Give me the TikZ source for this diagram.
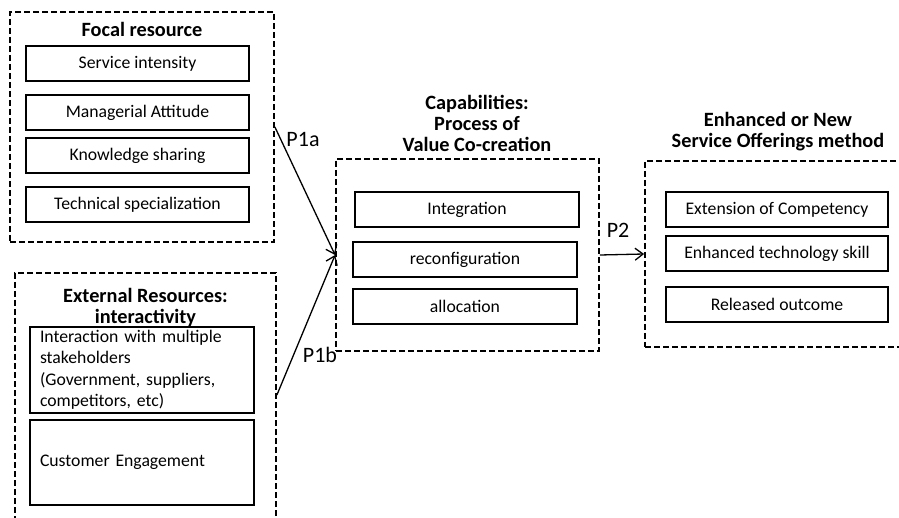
\documentclass[tikz,border=0pt]{standalone}
\usepackage{fontspec}
\setmainfont{Carlito}
\usetikzlibrary{arrows.meta}
\begin{document}
\begin{tikzpicture}[x=1pt,y=-1pt,
  grpbox/.style={draw, line width=1.8pt, dash pattern=on 6pt off 3pt},
  itembox/.style={draw, line width=2pt, inner sep=0pt, minimum height=35,
    font=\fontsize{17.7}{21.5}\selectfont},
  ttl/.style={align=center, font=\fontsize{20.3}{21}\selectfont\bfseries},
  plabel/.style={font=\fontsize{22}{24}\selectfont},
  flow/.style={-{Straight Barb[length=8pt,width=12pt]}, line width=1.3pt}]
\useasboundingbox (0,0) rectangle (899,518);
% focal resource
\node[grpbox, minimum width=264, minimum height=230] (foc) at (142,127){};
\node[ttl] (focT) at (142,29){Focal resource};
\node[itembox, minimum width=223] (foc1) at (137.5,64){Service intensity};
\node[itembox, minimum width=223] (foc2) at (137.5,112.5){Managerial Attitude};
\node[itembox, minimum width=223] (foc3) at (137.5,155.5){Knowledge sharing};
\node[itembox, minimum width=223] (foc4) at (137.5,205){Technical specialization};
% external resources
\node[grpbox, minimum width=261, minimum height=252] (ext) at (145.5,399){};
\node[ttl] (extT) at (145.5,307){External Resources:\\interactivity};
\node[itembox, minimum width=224, minimum height=86, text width=204, align=left] (ext1) at (142,370)
  {Interaction with multiple\\stakeholders\\(Government, suppliers,\\competitors, etc)};
\node[itembox, minimum width=224, minimum height=85, text width=204, align=left] (ext2) at (142,462.5)
  {Customer Engagement};
% capabilities
\node[grpbox, minimum width=263, minimum height=192] (cap) at (467.5,255){};
\node[ttl] (capT) at (477,123){Capabilities:\\Process of\\Value Co-creation};
\node[itembox, minimum width=224] (cap1) at (467,209.5){Integration};
\node[itembox, minimum width=224] (cap2) at (465,260){reconfiguration};
\node[itembox, minimum width=224] (cap3) at (465,306.5){allocation};
% offerings
\node[grpbox, minimum width=262, minimum height=186] (off) at (776,254){};
\node[ttl] (offT) at (778,132){Enhanced or New\\Service Offerings method};
\node[itembox, minimum width=222] (off1) at (777,209.5){Extension of Competency};
\node[itembox, minimum width=222] (off2) at (777,253.5){Enhanced technology skill};
\node[itembox, minimum width=222] (off3) at (777,304.5){Released outcome};
% propositions
\draw[flow] (foc.east) -- (cap.west);
\draw[flow] ([yshift=4pt]ext.east) -- (cap.west);
\draw[flow] (cap.east) -- (off.west);
\node[plabel] (p1a) at (303,140){P1a};
\node[plabel] (p1b) at (320,355){P1b};
\node[plabel] (p2) at (618,230){P2};
\end{tikzpicture}
\end{document}
